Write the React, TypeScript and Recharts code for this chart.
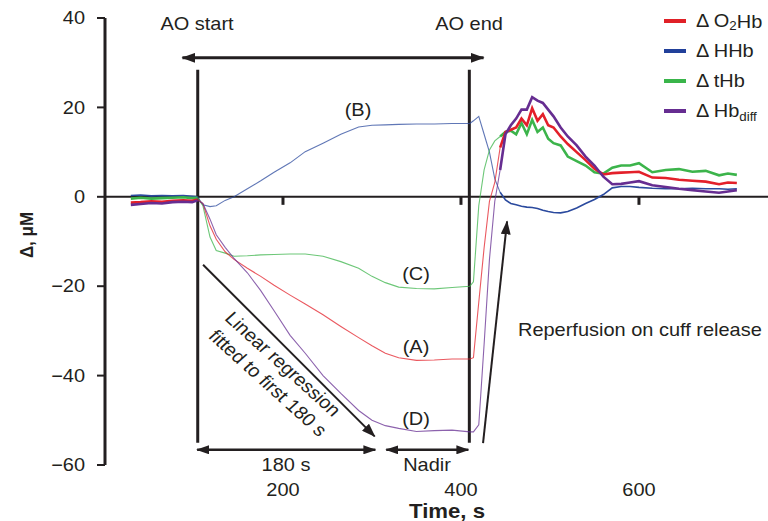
import { LineChart, Line, XAxis, YAxis, ReferenceLine } from "recharts";

// time axis (s) shared by all four traces
const times = [
  29, 40, 52, 64, 76, 88, 98, 104,
  110, 118, 125, 135, 145, 160, 175, 190, 208, 225, 245, 265, 285, 300, 315, 330, 350, 370, 390, 410,
  414, 420, 426, 432, 438, 444, 450, 456, 462, 468, 474, 480, 486, 492, 498, 504, 512, 520, 530, 540,
  550, 560, 570, 580, 590, 600, 615, 630, 645, 660, 675, 690, 700, 710,
];

const o2hb = [
  -1.3, -1.2, -1.0, -1.1, -0.9, -0.8, -0.9, -0.6,
  -1.5, -6.5, -9.5, -12.3, -14, -16, -17.8, -19.8, -22, -24, -26.4, -29, -31.5, -33.3, -35, -36, -36.6, -36.5, -36.3, -36.3,
  -36, -23.6, -11.4, -1, 3.2, 11, 14.5, 15, 15.5, 17.5, 16, 19.8, 17, 18.5, 16, 15.5, 13.5, 11.8, 10, 8.2,
  6.3, 5, 5.3, 5.4, 5.5, 5.6, 4.3, 4.2, 3.8, 3.6, 3.4, 2.8, 3.2, 3.1,
];

const hhb = [
  0.3, 0.4, 0.2, 0.3, 0.2, 0.3, 0.1, 0.0,
  -1.8, -2.2, -2, -0.8, 0, 1.8, 3.6, 5.5, 7.6, 10.1, 12, 14, 15.6, 16, 16.1, 16.2, 16.3, 16.3, 16.4, 16.4,
  17, 18, 14, 10, 4, 1, -0.7, -1.5, -1.8, -2.1, -2.3, -2.4, -2.6, -3, -3.3, -3.5, -3.6, -3.3, -2.5, -1.5,
  -0.6, 0.5, 2, 2.3, 2.3, 2.1, 1.9, 1.8, 1.8, 1.9, 1.8, 1.8, 1.7, 1.8,
];

const thb = [
  -0.4, -0.2, -0.4, -0.3, -0.2, -0.1, -0.3, -0.2,
  -2, -9, -12, -12.6, -13.3, -13.2, -13, -12.9, -12.8, -12.8, -13.3, -14.5, -16, -17.8, -19.2, -20.2, -20.5, -20.6, -20.3, -20,
  -19, -2, 6, 10.5, 12.5, 13.5, 14.5, 14.8, 14, 16.5, 14, 17.2, 14.5, 15.5, 13, 12, 11.5, 9, 8, 7,
  5.5, 5.2, 6.5, 7, 7, 7.5, 5.5, 6, 6.2, 5.6, 5.8, 4.8, 5.2, 4.9,
];

const hbdiff = [
  -1.8, -1.6, -1.4, -1.5, -1.2, -1.1, -1.2, -0.8,
  -1.5, -5, -8.5, -11.3, -13.8, -17, -21, -25.5, -31, -35, -40, -44, -47.8, -50, -51.2, -51.8, -52.5, -52.3, -52.2, -52.6,
  -52.6, -51, -33, -14, -1, 6, 14, 16, 17.5, 19.5, 19.5, 22.3, 21.5, 21, 19.5, 18, 15.5, 13.5, 11.5, 9,
  7, 4.5, 2.8, 2.9, 3.2, 3.5, 2.6, 2.2, 1.8, 1.5, 1.2, 0.9, 1.2, 1.5,
];

const xTicks = [200, 400, 600];
const yTicks = [-60, -40, -20, 0, 20, 40];

const INK = "#231f20";
const FONT = '"Liberation Sans", Arial, sans-serif';
const SX = 1.11; // the figure's lettering is a little wide

const OCC_START = 104;
const NOISY_FROM = 444;

const series = [
  { key: "hhb", values: hhb, color: "#2b4a9e", thin: 1.1, thick: 1.6 },
  { key: "thb", values: thb, color: "#3cb44b", thin: 1.1, thick: 2.6 },
  { key: "o2hb", values: o2hb, color: "#e3202a", thin: 1.1, thick: 2.6 },
  { key: "hbdiff", values: hbdiff, color: "#662d91", thin: 1.1, thick: 2.6 },
];

const rows = times.map((t, i) => {
  const row: Record<string, number | null> = { t };
  series.forEach((s) => {
    const v = s.values[i];
    row[s.key + "Thin"] = t >= OCC_START && t <= NOISY_FROM ? v : null;
    row[s.key + "Thick"] = t <= OCC_START || t >= NOISY_FROM ? v : null;
  });
  return row;
});

function T({
  x,
  y,
  size = 18,
  bold = false,
  anchor = "middle",
  rotate = 0,
  children,
}: {
  x: number;
  y: number;
  size?: number;
  bold?: boolean;
  anchor?: "start" | "middle" | "end";
  rotate?: number;
  children: React.ReactNode;
}) {
  return (
    <text
      transform={`translate(${x},${y}) scale(${SX},1) rotate(${rotate})`}
      textAnchor={anchor}
      dominantBaseline="central"
      fontSize={size}
      fontWeight={bold ? 700 : 400}
      fontFamily={FONT}
      fill={INK}
    >
      {children}
    </text>
  );
}

const fmtTick = (v: number) => (v < 0 ? "\u2212" + Math.abs(v) : String(v));

function arrow(width: number, marker: string, both = false) {
  return (p: any) => (
    <line
      x1={p.x1}
      y1={p.y1}
      x2={p.x2}
      y2={p.y2}
      stroke={INK}
      strokeWidth={width}
      markerEnd={`url(#${marker})`}
      markerStart={both ? `url(#${marker})` : undefined}
    />
  );
}

const legend = [
  { color: "#e02027", y: 21, label: <>Δ O<tspan fontSize={12} dy={5}>2</tspan><tspan dy={-5}>Hb</tspan></> },
  { color: "#21409a", y: 51, label: <>Δ HHb</> },
  { color: "#39b54a", y: 81, label: <>Δ tHb</> },
  { color: "#662d91", y: 111, label: <>Δ Hb<tspan fontSize={12} dy={6}>diff</tspan></> },
];

export default function App() {
  return (
    <div style={{ position: "relative", width: 768, height: 521, fontFamily: FONT }}>
      <style>{`body{margin:0}`}</style>
      <LineChart width={768} height={521} data={rows} margin={{ top: 18, right: 0, bottom: 16, left: 45 }}>
        <XAxis
          dataKey="t"
          type="number"
          domain={[0, 745]}
          ticks={xTicks}
          axisLine={false}
          tickLine={false}
          tickSize={0}
          tickMargin={25}
          height={40}
          tick={(p: any) => <T x={p.x} y={p.y}>{p.payload.value}</T>}
        />
        <YAxis
          type="number"
          domain={[-60, 40]}
          ticks={yTicks}
          width={60}
          axisLine={{ stroke: INK, strokeWidth: 3 }}
          tickLine={{ stroke: INK, strokeWidth: 2 }}
          tickSize={8}
          tickMargin={12}
          tick={(p: any) => <T x={p.x} y={p.y} anchor="end">{fmtTick(p.payload.value)}</T>}
        />
        <ReferenceLine y={0} stroke={INK} strokeWidth={2} />
        {xTicks.map((t) => (
          <ReferenceLine
            key={t}
            segment={[{ x: t, y: 0 }, { x: t, y: -1.8 }]}
            stroke={INK}
            strokeWidth={3}
            ifOverflow="visible"
          />
        ))}
        {/* occlusion start / end markers */}
        <ReferenceLine segment={[{ x: 104.2, y: 28.4 }, { x: 104.2, y: -55 }]} stroke={INK} strokeWidth={3} ifOverflow="visible" />
        <ReferenceLine segment={[{ x: 409.4, y: 28.4 }, { x: 409.4, y: -55 }]} stroke={INK} strokeWidth={3} ifOverflow="visible" />
        <ReferenceLine segment={[{ x: 87, y: 31.1 }, { x: 425.4, y: 31.1 }]} shape={arrow(3, "ah", true)} ifOverflow="visible" />
        <ReferenceLine segment={[{ x: 103.5, y: -56.6 }, { x: 303.8, y: -56.6 }]} shape={arrow(2.5, "ahs", true)} ifOverflow="visible" />
        <ReferenceLine segment={[{ x: 316, y: -56.6 }, { x: 408.3, y: -56.6 }]} shape={arrow(2.5, "ahs", true)} ifOverflow="visible" />
        <ReferenceLine segment={[{ x: 110.2, y: -15.2 }, { x: 303, y: -53.6 }]} shape={arrow(2, "ah")} ifOverflow="visible" />
        <ReferenceLine segment={[{ x: 424.8, y: -55.1 }, { x: 451.8, y: -5.5 }]} shape={arrow(2, "ah")} ifOverflow="visible" />
        {series.map((s) => (
          <Line
            key={s.key + "Thin"}
            dataKey={s.key + "Thin"}
            stroke={s.color}
            strokeOpacity={0.75}
            strokeWidth={s.thin}
            dot={false}
            activeDot={false}
            isAnimationActive={false}
          />
        ))}
        {series.map((s) => (
          <Line
            key={s.key + "Thick"}
            dataKey={s.key + "Thick"}
            stroke={s.color}
            strokeWidth={s.thick}
            dot={false}
            activeDot={false}
            isAnimationActive={false}
          />
        ))}
      </LineChart>

      <svg width={768} height={521} style={{ position: "absolute", left: 0, top: 0, pointerEvents: "none" }}>
        <defs>
          <marker id="ah" viewBox="0 0 14 10" refX={13} refY={5} markerWidth={14} markerHeight={10} markerUnits="userSpaceOnUse" orient="auto-start-reverse">
            <path d="M0,0 L14,5 L0,10 Z" fill={INK} />
          </marker>
          <marker id="ahs" viewBox="0 0 13 9" refX={12} refY={4.5} markerWidth={13} markerHeight={9} markerUnits="userSpaceOnUse" orient="auto-start-reverse">
            <path d="M0,0 L13,4.5 L0,9 Z" fill={INK} />
          </marker>
        </defs>
        <T x={197} y={24}>AO start</T>
        <T x={469} y={24}>AO end</T>
        <T x={358} y={110}>(B)</T>
        <T x={416} y={274}>(C)</T>
        <T x={416} y={347}>(A)</T>
        <T x={416} y={419}>(D)</T>
        <T x={286} y={465}>180 s</T>
        <T x={427} y={465}>Nadir</T>
        <T x={518} y={330} anchor="start">Reperfusion on cuff release</T>
        <T x={283} y={364} rotate={45}>Linear regression</T>
        <T x={268} y={383} rotate={45}>fitted to first 180 s</T>
        <T x={27} y={235} rotate={-90} size={17} bold>Δ, μM</T>
        <T x={447} y={511} size={20} bold>Time, s</T>
        {legend.map((l) => (
          <g key={l.y}>
            <line x1={664} x2={686} y1={l.y} y2={l.y} stroke={l.color} strokeWidth={4} />
            <T x={696} y={l.y} anchor="start">{l.label}</T>
          </g>
        ))}
      </svg>
    </div>
  );
}
